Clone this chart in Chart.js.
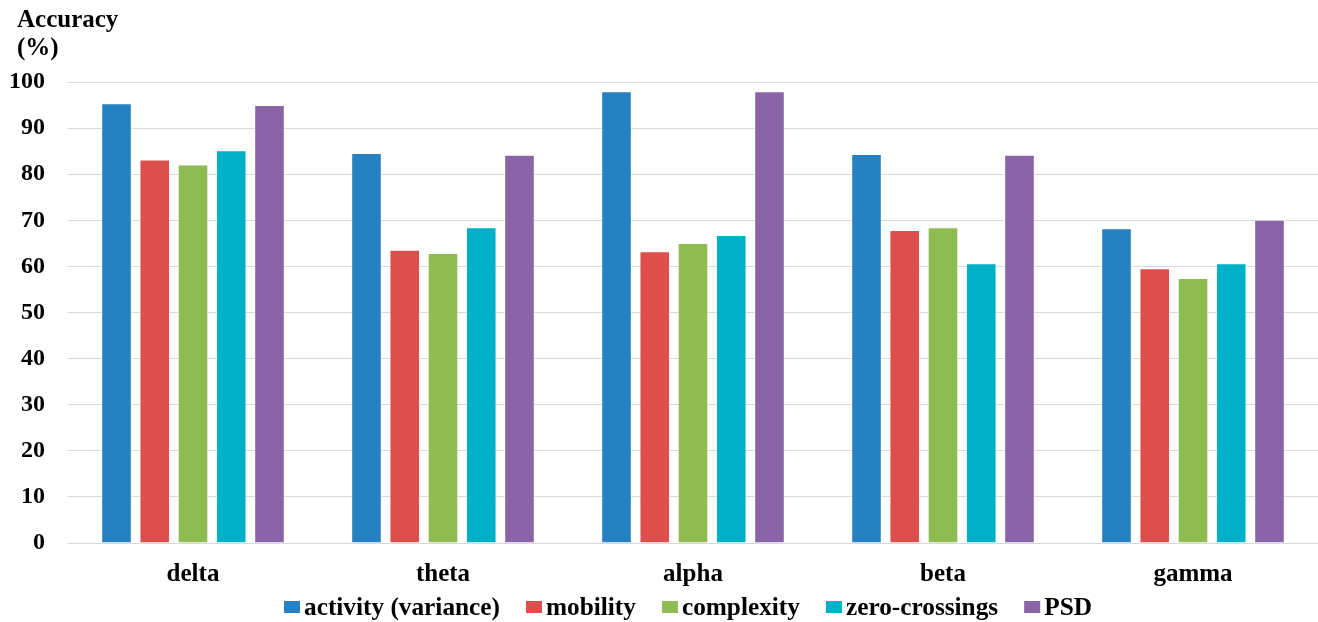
<!DOCTYPE html>
<html>
<head>
<meta charset="utf-8">
<script src="https://cdn.jsdelivr.net/npm/chart.js@4"></script>
<style>
  html, body { margin: 0; padding: 0; background: #fff; }
  #wrap { width: 1318px; height: 622px; position: relative; }
</style>
</head>
<body>
<div id="wrap"><canvas id="c" width="1318" height="622"></canvas></div>
<script>
// EEG frequency bands and per-feature classification accuracy (%)
const bands = ['delta', 'theta', 'alpha', 'beta', 'gamma'];
const activity = [95.4, 84.6, 98.0, 84.4, 68.3];
const mobility = [83.2, 63.6, 63.3, 67.9, 59.6];
const complexity = [82.1, 62.9, 65.1, 68.5, 57.5];
const zeroCrossings = [85.2, 68.5, 66.8, 60.7, 60.7];
const psd = [95.0, 84.2, 98.0, 84.2, 70.1];
const yTicks = [0, 10, 20, 30, 40, 50, 60, 70, 80, 90, 100];
const yTitle = ['Accuracy', '(%)'];

const serif = "'Liberation Serif', 'Times New Roman', serif";

function ds(label, data, color) {
  return {
    label, data,
    backgroundColor: color,
    borderColor: 'rgba(255,255,255,0.6)',
    borderWidth: 1,
    categoryPercentage: 0.765,
    barPercentage: 0.8
  };
}

// Two-line y-axis caption in the top-left corner
const axisCaption = {
  id: 'axisCaption',
  afterDraw(chart) {
    const ctx = chart.ctx;
    ctx.save();
    ctx.fillStyle = '#000';
    ctx.font = `bold 25px ${serif}`;
    ctx.textBaseline = 'middle';
    ctx.textAlign = 'left';
    yTitle.forEach((t, i) => ctx.fillText(t, 17, 21 + i * 28));
    ctx.restore();
  }
};

// Compact legend row under the category labels
const bottomLegend = {
  id: 'bottomLegend',
  afterDraw(chart) {
    const ctx = chart.ctx;
    const y = 607;
    let x = 284;
    ctx.save();
    ctx.font = `bold 25.3px ${serif}`;
    ctx.textBaseline = 'middle';
    ctx.textAlign = 'left';
    chart.data.datasets.forEach((d) => {
      ctx.fillStyle = d.backgroundColor;
      ctx.fillRect(x, y - 6, 16, 12);
      ctx.fillStyle = '#000';
      ctx.fillText(d.label, x + 20, y + 1);
      x += 20 + ctx.measureText(d.label).width + 26;
    });
    ctx.restore();
  }
};

new Chart(document.getElementById('c'), {
  type: 'bar',
  data: {
    labels: bands,
    datasets: [
      ds('activity (variance)', activity, '#2581c1'),
      ds('mobility', mobility, '#dd4f4d'),
      ds('complexity', complexity, '#8fbc51'),
      ds('zero-crossings', zeroCrossings, '#00afc8'),
      ds('PSD', psd, '#8964a6')
    ]
  },
  plugins: [axisCaption, bottomLegend],
  options: {
    responsive: false,
    animation: false,
    layout: { padding: { left: 10, right: 0, top: 82, bottom: 15 } },
    plugins: {
      legend: { display: false },
      tooltip: { enabled: false }
    },
    scales: {
      x: {
        grid: { display: false, drawTicks: false },
        border: { color: '#d9d9d9' },
        ticks: {
          color: '#000',
          font: { family: serif, size: 25, weight: 'bold' },
          padding: 17
        }
      },
      y: {
        min: 0,
        max: 100,
        afterBuildTicks: (axis) => { axis.ticks = yTicks.map(v => ({ value: v })); },
        afterFit: (axis) => { axis.width = 58; },
        grid: { color: '#d9d9d9', drawTicks: false },
        border: { display: false },
        ticks: {
          color: '#000',
          font: { family: serif, size: 24, weight: 'bold' },
          padding: 23
        }
      }
    }
  }
});
</script>
</body>
</html>
